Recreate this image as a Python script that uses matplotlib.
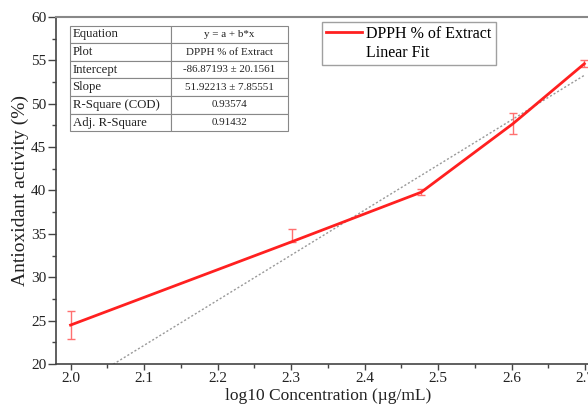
import matplotlib
matplotlib.use("Agg")
import matplotlib.pyplot as plt
import numpy as np
from matplotlib.ticker import MultipleLocator, FormatStrFormatter
from matplotlib.lines import Line2D

plt.rcParams['font.family'] = ['Liberation Serif', 'DejaVu Serif']

# data
log_conc = [2.0, 2.301, 2.477, 2.602, 2.699]
activity = [24.5, 34.1, 39.8, 47.7, 54.6]
err_low = [1.65, 0.0, 0.35, 1.25, 0.4]
err_high = [1.65, 1.5, 0.35, 1.25, 0.4]
intercept = -86.87193
slope = 51.92213

table_rows = [
    ["Equation", "y = a + b*x"],
    ["Plot", "DPPH % of Extract"],
    ["Intercept", "-86.87193 \u00b1 20.1561"],
    ["Slope", "51.92213 \u00b1 7.85551"],
    ["R-Square (COD)", "0.93574"],
    ["Adj. R-Square", "0.91432"],
]

fig = plt.figure(figsize=(5.88, 4.11), dpi=100)
ax = fig.add_axes([0.095, 0.114, 0.925, 0.845])

ax.errorbar(log_conc, activity, yerr=[err_low, err_high], fmt='none',
            ecolor='#ff7070', elinewidth=1.0, capsize=3, capthick=1.0, zorder=2)
ax.plot(log_conc, activity, color='#ff2020', lw=2.0, zorder=3)

xf = np.array([log_conc[0], log_conc[-1]])
ax.plot(xf, intercept + slope * xf, color='#999999', lw=1.0, ls=(0, (1.5, 1.5)), zorder=1)

ax.set_xlim(1.98, 2.72)
ax.set_ylim(20, 60)
ax.xaxis.set_major_locator(MultipleLocator(0.1))
ax.xaxis.set_minor_locator(MultipleLocator(0.05))
ax.xaxis.set_major_formatter(FormatStrFormatter('%.1f'))
ax.yaxis.set_major_locator(MultipleLocator(5))
ax.yaxis.set_minor_locator(MultipleLocator(2.5))
ax.tick_params(axis='x', which='major', direction='out', length=4, width=1, labelsize=11, pad=2)
ax.tick_params(axis='y', which='major', direction='out', length=6, width=1, labelsize=11, pad=1)
ax.tick_params(axis='both', which='minor', direction='out', length=3, width=1)
ax.tick_params(axis='both', which='both', colors='#444444', labelcolor='#222222')
for s in ['left', 'bottom']:
    ax.spines[s].set_color('#444444')
    ax.spines[s].set_linewidth(1.2)
ax.spines['top'].set_color('#888888')
ax.spines['top'].set_linewidth(1.5)
ax.spines['right'].set_visible(False)

ax.set_xlabel("log10 Concentration (\u00b5g/mL)", fontsize=12.5, color='#222222', labelpad=2)
ax.set_ylabel("Antioxidant activity (%)", fontsize=14, color='#222222', labelpad=1)

# table
tbl = ax.table(cellText=table_rows, cellLoc='center',
               colWidths=[0.185, 0.215],
               bbox=[0.026, 0.67, 0.40, 0.305])
tbl.auto_set_font_size(False)
for (r, c), cell in tbl.get_celld().items():
    cell.set_edgecolor('#888888')
    cell.set_linewidth(0.8)
    t = cell.get_text()
    t.set_color('#222222')
    if c == 0:
        cell._loc = 'left'
        cell.PAD = 0.025
        t.set_ha('left')
        t.set_fontsize(9.2)
    else:
        t.set_fontsize(7.9)

handles = [Line2D([], [], color='#ff2020', lw=2.0),
           Line2D([], [], color='#999999', lw=1.0, ls=(0, (1.5, 1.5)), alpha=0.0)]
leg = ax.legend(handles, ["DPPH % of Extract", "Linear Fit"],
                loc='upper left', bbox_to_anchor=(0.49, 0.985),
                fontsize=11.5, frameon=True, fancybox=False,
                handlelength=2.2, handletextpad=0.3, borderpad=0.25,
                borderaxespad=0.0, labelspacing=0.2)
leg.get_frame().set_edgecolor('#888888')
leg.get_frame().set_linewidth(1.0)

fig.savefig("out.png", dpi=100)
